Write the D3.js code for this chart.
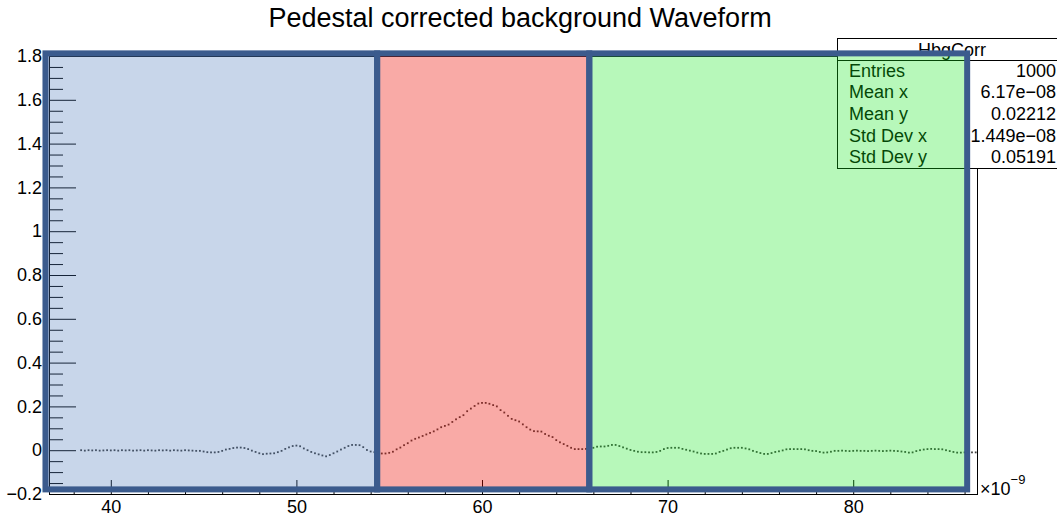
<!DOCTYPE html>
<html><head><meta charset="utf-8">
<script src="https://cdn.jsdelivr.net/npm/d3@7"></script>
<style>
html,body{margin:0;padding:0;background:#fff;}
svg{display:block;font-family:"Liberation Sans",Arial,Helvetica,sans-serif;}
</style></head><body>
<svg id="chart" width="1057" height="516"></svg>
<script>
// ---------------- data ----------------
const chartTitle = "Pedestal corrected background Waveform";

// sample times (units of 1e-9 s)
const sampleTimes = [
 38.4,38.6,38.8,39.0,39.2,39.4,39.6,39.8,
 40.0,40.2,40.4,40.6,40.8,41.0,41.2,41.4,41.6,41.8,
 42.0,42.2,42.4,42.6,42.8,43.0,43.2,43.4,43.6,43.8,
 44.0,44.2,44.4,44.6,44.8,
 45.0,45.2,45.4,45.6,45.8,46.0,46.2,46.4,46.6,46.8,
 47.0,47.2,47.4,47.6,47.8,48.0,48.2,48.4,48.6,48.8,
 49.0,49.2,49.4,49.6,49.8,50.0,50.2,50.4,50.6,50.8,
 51.0,51.2,51.4,51.6,51.8,52.0,52.2,52.4,52.6,52.8,
 53.0,53.2,53.4,53.6,53.8,54.0,54.2,54.4,54.6,54.8,
 55.0,55.2,55.4,55.6,55.8,56.0,56.2,56.4,56.6,56.8,
 57.0,57.2,57.4,57.6,57.8,58.0,58.2,58.4,58.6,58.8,
 59.0,59.2,59.4,59.6,59.8,60.0,60.2,60.4,60.6,60.8,
 61.0,61.2,61.4,61.6,61.8,62.0,62.2,62.4,62.6,62.8,
 63.0,63.2,63.4,63.6,63.8,64.0,64.2,64.4,64.6,64.8,
 65.0,65.2,65.4,65.6,65.8,66.0,66.2,66.4,66.6,66.8,
 67.0,67.2,67.4,67.6,67.8,68.0,68.2,68.4,68.6,68.8,
 69.0,69.2,69.4,69.6,69.8,70.0,70.2,70.4,70.6,70.8,
 71.0,71.2,71.4,71.6,71.8,72.0,72.2,72.4,72.6,72.8,
 73.0,73.2,73.4,73.6,73.8,74.0,74.2,74.4,74.6,74.8,
 75.0,75.2,75.4,75.6,75.8,76.0,76.2,76.4,76.6,76.8,
 77.0,77.2,77.4,77.6,77.8,78.0,78.2,78.4,78.6,78.8,
 79.0,79.2,79.4,79.6,79.8,80.0,80.2,80.4,80.6,80.8,
 81.0,81.2,81.4,81.6,81.8,82.0,82.2,82.4,82.6,82.8,
 83.0,83.2,83.4,83.6,83.8,84.0,84.2,84.4,84.6,84.8,
 85.0,85.2,85.4,85.6,85.8,86.0,86.2,86.4,86.6
];
const sampleValues = [
 0.000,-0.002,0.000,-0.001,0.000,-0.002,-0.001,0.000,
 -0.001,0.000,-0.002,0.000,-0.001,0.000,-0.002,-0.001,0.000,-0.002,
 0.000,-0.001,-0.002,0.000,-0.001,0.000,-0.002,0.000,-0.001,-0.002,
 0.000,-0.001,-0.002,-0.003,-0.003,
 -0.006,-0.009,-0.010,-0.010,-0.008,-0.003,0.003,0.006,0.010,0.012,
 0.012,0.010,0.005,-0.002,-0.008,-0.014,-0.018,-0.016,-0.015,-0.014,
 -0.009,-0.003,0.006,0.013,0.019,0.021,0.018,0.008,0.000,-0.008,
 -0.014,-0.019,-0.024,-0.028,-0.022,-0.014,-0.006,0.003,0.011,0.019,
 0.024,0.024,0.023,0.014,0.001,-0.006,-0.009,-0.012,-0.015,-0.015,
 -0.012,-0.007,0.004,0.012,0.023,0.032,0.044,0.052,0.058,0.065,
 0.072,0.079,0.086,0.095,0.105,0.111,0.117,0.129,0.141,0.151,
 0.160,0.178,0.190,0.202,0.213,0.216,0.216,0.212,0.206,0.200,
 0.183,0.172,0.157,0.143,0.137,0.131,0.118,0.105,0.094,0.087,
 0.086,0.085,0.074,0.066,0.060,0.046,0.036,0.028,0.020,0.011,
 0.005,0.005,0.005,0.006,0.009,0.011,0.016,0.017,0.017,0.020,
 0.024,0.024,0.019,0.013,0.007,0.001,-0.003,-0.007,-0.009,-0.009,
 -0.010,-0.010,-0.008,-0.003,0.005,0.010,0.011,0.011,0.011,0.006,
 0.002,-0.002,-0.006,-0.011,-0.015,-0.017,-0.017,-0.017,-0.015,-0.008,
 -0.003,0.003,0.009,0.011,0.011,0.011,0.008,0.004,-0.003,-0.008,
 -0.013,-0.017,-0.017,-0.013,-0.008,-0.005,-0.001,0.004,0.005,0.005,
 0.005,0.005,0.004,0.000,-0.003,-0.004,-0.008,-0.011,-0.010,-0.007,
 -0.003,-0.003,-0.002,-0.003,-0.004,-0.003,-0.002,-0.003,-0.003,-0.004,
 -0.003,-0.002,-0.003,-0.004,-0.003,-0.002,-0.003,-0.004,-0.006,-0.008,
 -0.011,-0.010,-0.004,0.000,0.003,0.005,0.006,0.005,0.005,0.004,
 0.000,-0.004,-0.008,-0.011,-0.011,-0.010,-0.011,-0.010,-0.010
];

const xDomain = [36.67, 86.67];
const yDomain = [-0.2, 1.8];
const xMajorTicks = [40, 50, 60, 70, 80];
const xTickLabels = ["40", "50", "60", "70", "80"];
const xMinorTicks = [38,42,44,46,48,52,54,56,58,62,64,66,68,72,74,76,78,82,84,86];
const yMajorTicks = [-0.2, 0, 0.2, 0.4, 0.6, 0.8, 1.0, 1.2, 1.4, 1.6, 1.8];
const yTickLabels = ["\u22120.2", "0", "0.2", "0.4", "0.6", "0.8", "1", "1.2", "1.4", "1.6", "1.8"];
const yMinorTicks = [-0.15,-0.1,-0.05,0.05,0.1,0.15,0.25,0.3,0.35,0.45,0.5,0.55,0.65,0.7,0.75,
  0.85,0.9,0.95,1.05,1.1,1.15,1.25,1.3,1.35,1.45,1.5,1.55,1.65,1.7,1.75];
const xExponentBase = "\u00d710";
const xExponent = "\u22129";

// analysis windows (data coordinates)
const windowEdges = [36.48, 54.35, 65.78, 86.14];
const windowYRange = [-0.179, 1.812];

// stats box
const statsTitle = "HbgCorr";
const statLabels = ["Entries", "Mean x", "Mean y", "Std Dev x", "Std Dev y"];
const statValues = ["1000", "6.17e\u221208", "0.02212", "1.449e\u221208", "0.05191"];

// ---------------- style ----------------
const windowFills = ["rgb(72,118,185)", "rgb(238,12,0)", "rgb(18,232,28)"];
const windowOpacity = [0.30, 0.35, 0.30];
const windowBorder = "#3b5b8d";

// ---------------- drawing ----------------
(function draw() {
const svg = d3.select("#chart");
const pLeft = 49, pRight = 977, pTop = 56, pBottom = 494;
const x = d3.scaleLinear().domain(xDomain).range([pLeft, pRight]);
const y = d3.scaleLinear().domain(yDomain).range([pBottom, pTop]);

// title
svg.append("text").attr("x", 520).attr("y", 27).attr("text-anchor", "middle")
  .attr("font-size", 27).attr("fill", "#000").text(chartTitle);

// frame
svg.append("rect").attr("x", pLeft + 0.5).attr("y", pTop + 0.5)
  .attr("width", pRight - pLeft).attr("height", pBottom - pTop)
  .attr("fill", "#fff").attr("stroke", "#000").attr("stroke-width", 1);

// y axis minor
const yMinorAxis = d3.axisLeft(y).tickValues(yMinorTicks).tickSizeInner(-14).tickSizeOuter(0).tickFormat("");
svg.append("g").attr("transform", `translate(${pLeft},0)`).call(yMinorAxis);
// y axis major
const yMajorAxis = d3.axisLeft(y).tickValues(yMajorTicks).tickSizeInner(-27).tickSizeOuter(0)
  .tickPadding(7).tickFormat((d, i) => yTickLabels[i]);
svg.append("g").attr("transform", `translate(${pLeft},0)`).call(yMajorAxis);

// x axis minor
const xMinorAxis = d3.axisBottom(x).tickValues(xMinorTicks).tickSizeInner(-7).tickSizeOuter(0).tickFormat("");
svg.append("g").attr("transform", `translate(0,${pBottom})`).call(xMinorAxis);
const xMajorAxis = d3.axisBottom(x).tickValues(xMajorTicks).tickSizeInner(-14).tickSizeOuter(0)
  .tickPadding(6).tickFormat((d, i) => xTickLabels[i]);
svg.append("g").attr("transform", `translate(0,${pBottom})`).call(xMajorAxis);

svg.selectAll(".domain").attr("stroke", "#000");
svg.selectAll(".tick line").attr("stroke", "#000");
svg.selectAll(".tick text").attr("font-size", 18).attr("fill", "#000")
  .attr("font-family", "'Liberation Sans',Arial,Helvetica,sans-serif");

// exponent label
const ex = svg.append("text").attr("x", 980).attr("y", 495).attr("font-size", 18).attr("fill", "#000");
ex.append("tspan").text(xExponentBase);
ex.append("tspan").attr("dy", -11).attr("font-size", 13).text(xExponent);

// data points
const pts = sampleTimes.map((t, i) => ({t, v: sampleValues[i]}));
svg.append("g").selectAll("rect").data(pts).join("rect")
  .attr("x", d => x(d.t) - 0.9).attr("y", d => y(d.v) - 0.9)
  .attr("width", 1.8).attr("height", 1.8).attr("fill", "#111").attr("fill-opacity", 0.8);

// stats box
const sb = {x: 837.5, y: 38.5, w: 240, h: 130};
const sg = svg.append("g");
sg.append("rect").attr("x", sb.x).attr("y", sb.y).attr("width", sb.w).attr("height", sb.h)
  .attr("fill", "#fff").attr("stroke", "#000");
const rowH = sb.h / 6;
sg.append("line").attr("x1", sb.x).attr("x2", sb.x + sb.w).attr("y1", Math.round(sb.y + rowH) + 0.5)
  .attr("y2", Math.round(sb.y + rowH) + 0.5).attr("stroke", "#000");
sg.append("text").attr("x", 952).attr("y", sb.y + rowH / 2 + 6.3).attr("text-anchor", "middle")
  .attr("font-size", 18).attr("fill", "#000").text(statsTitle);
statLabels.forEach((lab, i) => {
  const cy = sb.y + rowH * (i + 1.5) + 5.5;
  sg.append("text").attr("x", 849).attr("y", cy).attr("font-size", 18).attr("fill", "#000").text(lab);
  sg.append("text").attr("x", 1056).attr("y", cy).attr("text-anchor", "end")
    .attr("font-size", 18).attr("fill", "#000").text(statValues[i]);
});

// translucent windows
const wins = windowEdges.slice(0, -1).map((e, i) => ({x0: e, x1: windowEdges[i + 1], i}));
svg.append("g").selectAll("rect").data(wins).join("rect")
  .attr("x", d => x(d.x0)).attr("width", d => x(d.x1) - x(d.x0))
  .attr("y", y(windowYRange[1])).attr("height", y(windowYRange[0]) - y(windowYRange[1]))
  .attr("fill", d => windowFills[d.i]).attr("fill-opacity", d => windowOpacity[d.i]);
svg.append("g").selectAll("rect").data(wins).join("rect")
  .attr("x", d => x(d.x0)).attr("width", d => x(d.x1) - x(d.x0))
  .attr("y", y(windowYRange[1])).attr("height", y(windowYRange[0]) - y(windowYRange[1]))
  .attr("fill", "none").attr("stroke", windowBorder).attr("stroke-width", 6);
})();
</script>
</body></html>
